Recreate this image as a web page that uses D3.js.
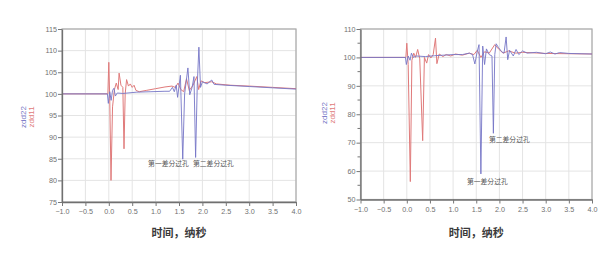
<!DOCTYPE html>
<html>
<head>
<meta charset="utf-8">
<script src="https://cdn.jsdelivr.net/npm/d3@7"></script>
<style>
  body { margin: 0; background: #fff; }
  svg { display: block; }
</style>
</head>
<body>
<div id="chart-area"></div>
<script>
// time (ns), impedance (ohm) pairs
var leftZdd11 = [[-1,100],[-0.02,100],[0.0,107.3],[0.02,99],[0.047,80],[0.08,97],[0.12,101],[0.16,102.5],
	[0.2,101],[0.22,104.8],[0.26,102],[0.3,101.5],[0.325,87.3],[0.35,100],[0.38,103.3],[0.42,101.8],
	[0.46,102.3],[0.5,101.5],[0.54,102],[0.58,100.8],[0.65,100.5],[0.8,100.8],[1.0,101.2],[1.2,101.6],
	[1.35,101.8],[1.42,101.5],[1.48,102.5],[1.54,101],[1.6,100.5],[1.66,103.5],[1.72,100.8],[1.8,102],
	[1.88,104],[1.92,101],[1.97,103],[2.05,102.6],[2.2,102.8],[2.3,102.3],[2.6,102],[3.0,101.8],
	[3.5,101.5],[4.0,101.2]];
var leftZdd22 = [[-1,100],[-0.03,100],[-0.01,97.8],[0.02,100.5],[0.05,98.5],[0.08,100.8],[0.11,101.3],
	[0.14,99.5],[0.18,100.2],[0.3,100.1],[0.6,100.4],[0.9,100.5],[1.2,100.6],[1.3,100.6],[1.36,101.5],
	[1.4,100.5],[1.44,102],[1.47,99.2],[1.53,104.3],[1.58,84.9],[1.62,100],[1.65,102.5],[1.69,106],
	[1.73,99.8],[1.78,101.5],[1.82,104],[1.855,85.3],[1.89,102],[1.925,110.8],[1.96,101.5],[2.0,102.8],
	[2.1,102.3],[2.2,103.2],[2.25,102.2],[2.5,102],[3.0,101.7],[3.5,101.4],[4.0,101.1]];

var rightZdd11 = [[-1,100],[-0.02,100],[0.0,105],[0.03,97.5],[0.076,56.3],[0.11,99],[0.15,101.5],
	[0.19,100],[0.235,102.8],[0.28,99.5],[0.343,70.7],[0.38,100],[0.43,98],[0.47,101],[0.52,99.8],
	[0.57,101],[0.62,106.8],[0.65,97.8],[0.7,101.2],[0.78,100.3],[0.85,101],[0.95,100.5],[1.05,101.2],
	[1.2,100.8],[1.35,101.5],[1.45,101],[1.52,102.5],[1.6,100],[1.68,102],[1.78,101.5],[1.9,104.5],
	[1.98,103],[2.08,101.5],[2.2,102.3],[2.35,101.5],[2.5,101.8],[3.0,101.4],[3.5,101.3],[4.0,101.2]];
var rightZdd22 = [[-1,100],[-0.03,100],[-0.01,97.5],[0.03,100.5],[0.07,99],[0.1,101.5],[0.14,100],
	[0.2,100.5],[0.4,100.3],[0.6,100.6],[0.8,100.8],[1.0,101],[1.2,101],[1.35,101.5],[1.42,101],
	[1.47,97.7],[1.52,102],[1.56,104.5],[1.6,59],[1.64,104],[1.68,97.5],[1.72,103],[1.78,101],
	[1.84,100.5],[1.87,73.3],[1.9,101],[1.93,104.8],[1.98,103.5],[2.05,102],[2.1,101.5],[2.145,107.2],
	[2.18,99.2],[2.22,102.5],[2.3,100.5],[2.36,102.8],[2.42,101],[2.5,102.3],[2.6,101.5],[2.8,101.8],
	[3.0,101.3],[3.1,101.9],[3.2,101.2],[3.3,101.7],[3.5,101.4],[4.0,101.2]];

var xTicks = [-1.0,-0.5,0.0,0.5,1.0,1.5,2.0,2.5,3.0,3.5,4.0];
var leftYTicks = [75,80,85,90,95,100,105,110,115];
var rightYTicks = [50,60,70,80,90,100,110];
var rightYMinor = [55,65,75,85,95,105];

var leftNotes = [["第一差分过孔",0.84,83.8],["第二差分过孔",1.80,83.8]];
var rightNotes = [["第二差分过孔",1.775,70.9],["第一差分过孔",1.30,56.2]];

var xTitle = "时间，纳秒";

var red = "#e07a7a", blue = "#7676c6";

var svg = d3.select("#chart-area")
	.append("svg")
		.attr("width",615)
		.attr("height",255);

function drawChart(box, yDomain, yTicks, yMinor, s11, s22, notes, labelX, labelY){
	var x = d3.scaleLinear().domain([-1,4]).range([box.left,box.right]);
	var y = d3.scaleLinear().domain(yDomain).range([box.bottom,box.top]);
	var g = svg.append("g");

	// grid
	g.selectAll(".vgrid").data(xTicks).enter().append("line")
		.attr("x1",d => x(d)).attr("x2",d => x(d))
		.attr("y1",box.top).attr("y2",box.bottom)
		.attr("stroke","#e4e4e4").attr("stroke-width",1);
	g.selectAll(".hgrid").data(yTicks).enter().append("line")
		.attr("x1",box.left).attr("x2",box.right)
		.attr("y1",d => y(d)).attr("y2",d => y(d))
		.attr("stroke","#e4e4e4").attr("stroke-width",1);

	// frame
	g.append("rect")
		.attr("x",box.left).attr("y",box.top)
		.attr("width",box.right-box.left).attr("height",box.bottom-box.top)
		.attr("fill","none").attr("stroke","#aaa").attr("stroke-width",1.2);

	var line = d3.line().x(d => x(d[0])).y(d => y(d[1]));
	g.append("path").datum(s11)
		.attr("d",line).attr("fill","none").attr("stroke",red).attr("stroke-width",1);
	g.append("path").datum(s22)
		.attr("d",line).attr("fill","none").attr("stroke",blue).attr("stroke-width",1)
		.attr("stroke-opacity",0.9);

	// axes
	var xAxisCall = d3.axisBottom(x).tickValues(xTicks).tickFormat(d3.format(".1f"))
		.tickSizeInner(4).tickSizeOuter(0).tickPadding(3);
	var xg = g.append("g")
		.attr("transform","translate(0,"+box.bottom+")")
		.call(xAxisCall);
	var yAxisCall = d3.axisLeft(y).tickValues(yTicks)
		.tickSizeInner(4).tickSizeOuter(0).tickPadding(1);
	var yg = g.append("g")
		.attr("transform","translate("+box.left+",0)")
		.call(yAxisCall);
	[xg,yg].forEach(function(a){
		a.select(".domain").attr("stroke","#707070").attr("stroke-width",1.3);
		a.selectAll(".tick line").attr("stroke","#777");
		a.selectAll(".tick text").attr("fill","#707070")
			.attr("font-family","Liberation Sans, Arial, sans-serif").attr("font-size","7.2px");
	});
	if(yMinor){
		g.selectAll(".ymin").data(yMinor).enter().append("line")
			.attr("x1",box.left-3).attr("x2",box.left)
			.attr("y1",d => y(d)).attr("y2",d => y(d))
			.attr("stroke","#777");
	}

	// annotations
	g.selectAll(".note").data(notes).enter().append("text")
		.attr("x",d => x(d[1])).attr("y",d => y(d[2]))
		.attr("dominant-baseline","middle")
		.attr("font-family","Noto Sans CJK SC")
		.attr("font-size","6.8px")
		.attr("fill","#555")
		.text(d => d[0]);

	// x title
	g.append("text")
		.attr("x",(box.left+box.right)/2)
		.attr("y",237)
		.attr("text-anchor","middle")
		.attr("font-family","Noto Sans CJK SC")
		.attr("font-weight","bold")
		.attr("font-size","11px")
		.attr("fill","#3a3a3a")
		.text(xTitle);

	// y titles (rotated)
	g.append("text")
		.attr("transform","translate("+labelX+","+labelY+") rotate(-90)")
		.attr("text-anchor","middle")
		.attr("font-family","Liberation Sans, Arial, sans-serif")
		.attr("font-size","8px")
		.attr("fill",blue)
		.text("zdd22");
	g.append("text")
		.attr("transform","translate("+(labelX+7.5)+","+labelY+") rotate(-90)")
		.attr("text-anchor","middle")
		.attr("font-family","Liberation Sans, Arial, sans-serif")
		.attr("font-size","8px")
		.attr("fill",red)
		.text("zdd11");
}

drawChart({left:62, right:296, top:29, bottom:202}, [75,115], leftYTicks, null,
	leftZdd11, leftZdd22, leftNotes, 26, 117);
drawChart({left:360.5, right:592, top:29, bottom:199.5}, [50,110], rightYTicks, rightYMinor,
	rightZdd11, rightZdd22, rightNotes, 327, 113);
</script>
</body>
</html>
